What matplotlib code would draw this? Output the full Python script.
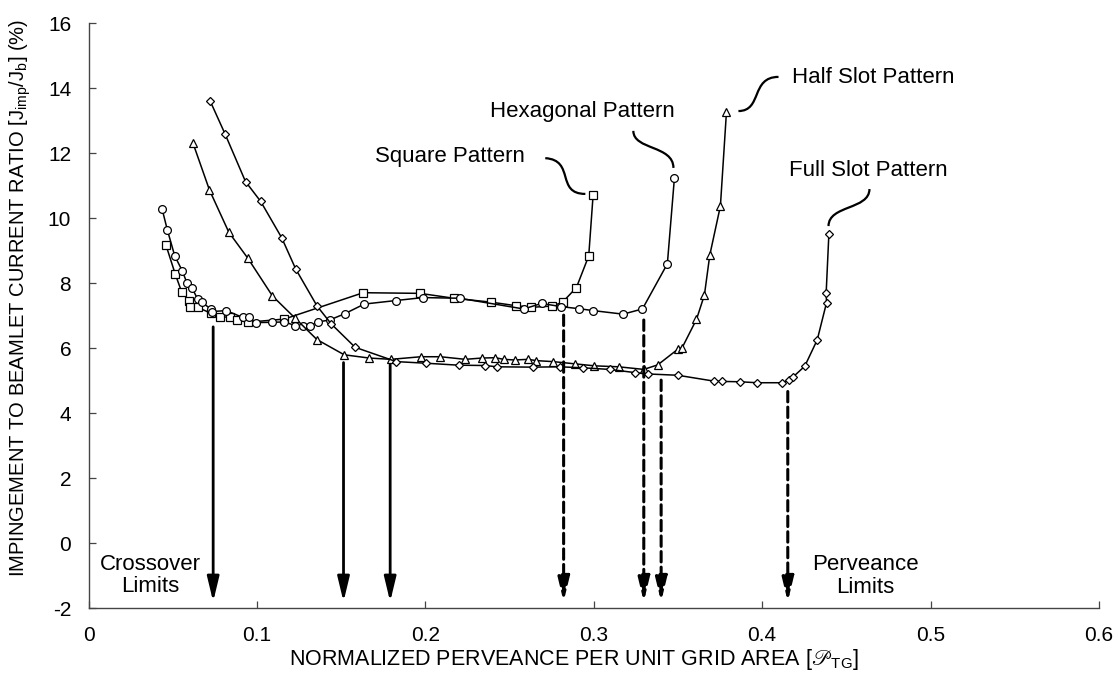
import numpy as np
import matplotlib
matplotlib.use("Agg")
import matplotlib.pyplot as plt
from matplotlib.path import Path
from matplotlib.patches import PathPatch

# --- FONTS ---
plt.rcParams['font.family'] = ['Liberation Sans', 'DejaVu Sans']
plt.rcParams['mathtext.fontset'] = 'custom'
plt.rcParams['mathtext.rm'] = 'Liberation Sans'
plt.rcParams['mathtext.it'] = 'Liberation Sans'
plt.rcParams['mathtext.fallback'] = 'stix'
plt.rcParams['axes.unicode_minus'] = False

# --- DATA ---
# Square pattern
sq_x = [0.0460, 0.0515, 0.0554, 0.0597, 0.0603, 0.0647, 0.0726, 0.0781, 0.0837, 0.0884,
        0.0944, 0.1163, 0.1631, 0.1968, 0.2168, 0.2390, 0.2538, 0.2629, 0.2754, 0.2815,
        0.2897, 0.2970, 0.2996]
sq_y = [9.17, 8.28, 7.72, 7.46, 7.28, 7.26, 7.08, 6.95, 6.97, 6.87,
        6.80, 6.90, 7.71, 7.69, 7.54, 7.42, 7.31, 7.26, 7.30, 7.42,
        7.87, 8.84, 10.71]

# Hexagonal pattern
hex_x = [0.0437, 0.0468, 0.0512, 0.0556, 0.0585, 0.0615, 0.0647, 0.0672, 0.0728, 0.0734,
         0.0817, 0.0916, 0.0950, 0.0993, 0.1088, 0.1163, 0.1227, 0.1275, 0.1316, 0.1362,
         0.1431, 0.1520, 0.1637, 0.1826, 0.1986, 0.2203, 0.2584, 0.2690, 0.2808, 0.2910,
         0.2996, 0.3174, 0.3289, 0.3437, 0.3479]
hex_y = [10.28, 9.64, 8.84, 8.39, 8.00, 7.85, 7.52, 7.42, 7.20, 7.13,
         7.16, 6.95, 6.95, 6.79, 6.80, 6.81, 6.70, 6.70, 6.70, 6.81,
         6.87, 7.06, 7.36, 7.47, 7.56, 7.54, 7.21, 7.38, 7.28, 7.22,
         7.16, 7.05, 7.21, 8.60, 11.25]

# Half slot pattern
half_x = [0.0619, 0.0718, 0.0833, 0.0946, 0.1092, 0.1224, 0.1356, 0.1518, 0.1666, 0.1796,
          0.1974, 0.2089, 0.2237, 0.2336, 0.2415, 0.2465, 0.2530, 0.2610, 0.2659, 0.2758,
          0.2891, 0.3004, 0.3148, 0.3297, 0.3380, 0.3499, 0.3525, 0.3610, 0.3657, 0.3689,
          0.3752, 0.3788]
half_y = [12.33, 10.87, 9.57, 8.77, 7.61, 6.94, 6.27, 5.80, 5.70, 5.66,
          5.74, 5.74, 5.66, 5.70, 5.71, 5.66, 5.64, 5.66, 5.62, 5.59,
          5.52, 5.46, 5.43, 5.35, 5.49, 5.97, 6.02, 6.89, 7.64, 8.87,
          10.38, 13.28]

# Full slot pattern
full_x = [0.0722, 0.0811, 0.0932, 0.1022, 0.1147, 0.1230, 0.1357, 0.1441, 0.1583, 0.1827,
          0.2005, 0.2197, 0.2356, 0.2425, 0.2637, 0.2797, 0.2934, 0.3094, 0.3247, 0.3320,
          0.3499, 0.3713, 0.3762, 0.3867, 0.3970, 0.4115, 0.4158, 0.4184, 0.4253, 0.4327,
          0.4382, 0.4380, 0.4396]
full_y = [13.61, 12.59, 11.13, 10.52, 9.40, 8.44, 7.30, 6.75, 6.03, 5.59,
          5.54, 5.48, 5.47, 5.43, 5.42, 5.43, 5.40, 5.35, 5.25, 5.21,
          5.17, 4.99, 4.98, 4.97, 4.94, 4.94, 5.02, 5.12, 5.45, 6.26,
          7.40, 7.71, 9.51]

# Limit arrows: x position and starting height
crossover_x = [0.0740, 0.1514, 0.1791]
crossover_top = [6.66, 5.56, 5.50]
perveance_x = [0.2821, 0.3297, 0.3400, 0.4152]
perveance_top = [7.02, 6.87, 5.02, 4.67]
arrow_tip = -1.80

x_ticks = [0, 0.1, 0.2, 0.3, 0.4, 0.5, 0.6]
x_ticklabels = ['0', '0.1', '0.2', '0.3', '0.4', '0.5', '0.6']
y_ticks = [-2, 0, 2, 4, 6, 8, 10, 12, 14, 16]

# --- FIGURE ---
fig = plt.figure(figsize=(11.18, 6.85), dpi=100)
ax = fig.add_axes([0.0792, 0.112, 0.9038, 0.854])

line_kw = dict(color='black', lw=1.1, mfc='white', mec='black', mew=0.9)
ax.plot(sq_x, sq_y, marker='s', ms=5.2, **line_kw)
ax.plot(hex_x, hex_y, marker='o', ms=5.6, **line_kw)
ax.plot(half_x, half_y, marker='^', ms=6.2, **line_kw)
ax.plot(full_x, full_y, marker='D', ms=4.4, **line_kw)

# Limit arrows
head = '-|>,head_length=0.75,head_width=0.18'
for x, top in zip(crossover_x, crossover_top):
    ax.annotate('', xy=(x, arrow_tip), xytext=(x, top),
                arrowprops=dict(arrowstyle=head, mutation_scale=20, lw=2.0,
                                color='black', shrinkA=0, shrinkB=0))
for x, top in zip(perveance_x, perveance_top):
    ax.annotate('', xy=(x, arrow_tip), xytext=(x, top),
                arrowprops=dict(arrowstyle=head, mutation_scale=20, lw=2.2,
                                ls=(0, (3.4, 1.7)), color='black',
                                shrinkA=0, shrinkB=0))

# Curly connectors from labels to curve ends
connectors = [
    [(0.2712, 11.85), (0.2891, 11.79), (0.2772, 10.75), (0.2950, 10.75)],
    [(0.3235, 12.69), (0.3235, 12.10), (0.3473, 12.25), (0.3473, 11.55)],
    [(0.4097, 14.35), (0.3930, 14.35), (0.4002, 13.30), (0.3859, 13.30)],
    [(0.4637, 10.90), (0.4637, 10.26), (0.4394, 10.41), (0.4394, 9.76)],
]
for pts in connectors:
    path = Path(pts, [Path.MOVETO, Path.CURVE4, Path.CURVE4, Path.CURVE4])
    ax.add_patch(PathPatch(path, fc='none', ec='black', lw=1.6))

txt_kw = dict(fontsize=16, va='center', color='black')
ax.text(0.1702, 11.90, 'Square Pattern', ha='left', **txt_kw)
ax.text(0.3479, 13.28, 'Hexagonal Pattern', ha='right', **txt_kw)
ax.text(0.4178, 14.34, 'Half Slot Pattern', ha='left', **txt_kw)
ax.text(0.4158, 11.47, 'Full Slot Pattern', ha='left', **txt_kw)
ax.text(0.0365, -0.99, 'Crossover\nLimits', ha='center', multialignment='center',
        linespacing=1.1, **txt_kw)
ax.text(0.4614, -1.00, 'Perveance\nLimits', ha='center', multialignment='center',
        linespacing=1.1, **txt_kw)

# Axes styling
ax.set_xlim(0, 0.6)
ax.set_ylim(-2, 16)
ax.set_xticks(x_ticks)
ax.set_xticklabels(x_ticklabels)
ax.set_yticks(y_ticks)
for side in ['top', 'right']:
    ax.spines[side].set_visible(False)
for side in ['left', 'bottom']:
    ax.spines[side].set_color('#444444')
    ax.spines[side].set_linewidth(1.0)
ax.tick_params(direction='in', length=5, width=0.9, color='#444444',
               labelsize=15, pad=12.5)

fig.text(0.5134, 0.0365,
         'NORMALIZED PERVEANCE PER UNIT GRID AREA [$\U0001D4AB_{\\mathrm{TG}}$]',
         ha='center', va='center', fontsize=15.5)
fig.text(0.0179, 0.565,
         'IMPINGEMENT TO BEAMLET CURRENT RATIO [J$_{\\mathrm{imp}}$/J$_{\\mathrm{b}}$] (%)',
         ha='center', va='center', rotation=90, fontsize=14.5)

fig.savefig('out.png', dpi=100)
